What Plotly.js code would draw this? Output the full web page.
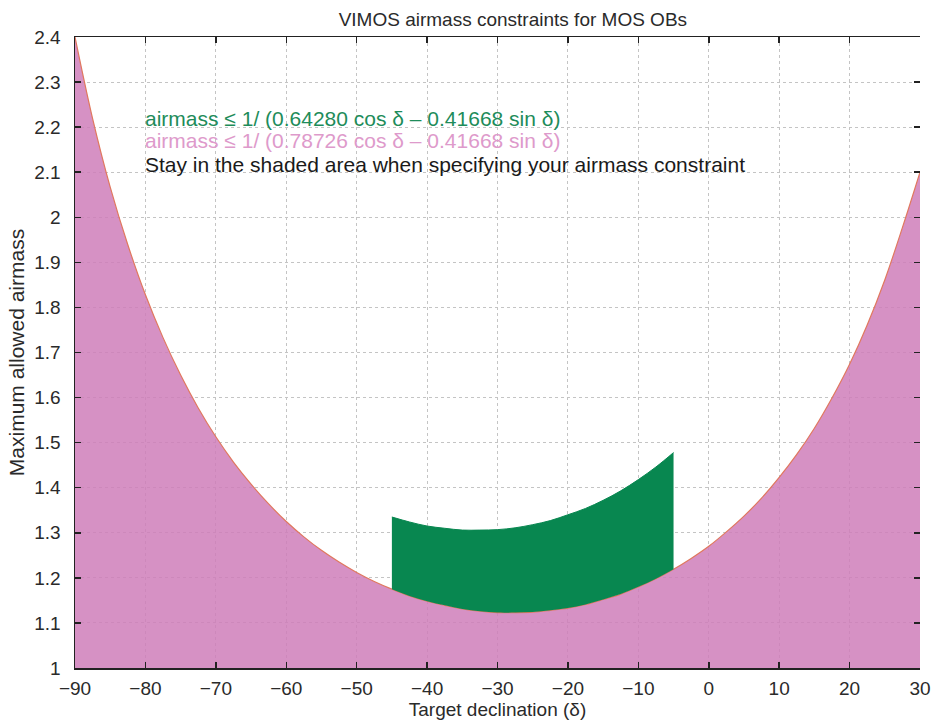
<!DOCTYPE html>
<html>
<head>
<meta charset="utf-8">
<script src="https://cdn.plot.ly/plotly-3.0.1.min.js"></script>
<style>html,body{margin:0;padding:0;background:#fff;}#chart{width:948px;height:721px;}</style>
</head>
<body>
<div id="chart"></div>
<script>
// Declination (deg) and maximum allowed airmass for the pink (0.78726) limit
const declination = [-90, -87.5, -85, -82.5, -80, -77.5, -75, -72.5, -70, -67.5, -65, -62.5, -60, -57.5, -55, -52.5, -50, -47.5, -45, -42.5, -40, -37.5, -35, -32.5, -30, -27.5, -25, -22.5, -20, -17.5, -15, -12.5, -10, -7.5, -5, -2.5, 0, 2.5, 5, 7.5, 10, 12.5, 15, 17.5, 20, 22.5, 25, 27.5, 30];
const airmassPink = [2.400, 2.219, 2.067, 1.939, 1.828, 1.733, 1.650, 1.577, 1.513, 1.457, 1.408, 1.364, 1.325, 1.291, 1.261, 1.235, 1.212, 1.192, 1.175, 1.160, 1.148, 1.139, 1.131, 1.126, 1.123, 1.123, 1.124, 1.128, 1.133, 1.141, 1.152, 1.164, 1.180, 1.198, 1.219, 1.243, 1.270, 1.302, 1.337, 1.377, 1.423, 1.474, 1.532, 1.599, 1.674, 1.761, 1.861, 1.977, 2.100];
// Green (0.64280) limit, drawn between -45 and -5
const declinationGreen = [-45, -42.5, -40, -37.5, -35, -32.5, -30, -27.5, -25, -22.5, -20, -17.5, -15, -12.5, -10, -7.5, -5];
const airmassGreenUpper = [1.335, 1.324, 1.315, 1.310, 1.306, 1.306, 1.307, 1.311, 1.318, 1.327, 1.340, 1.354, 1.372, 1.393, 1.418, 1.446, 1.478];
const airmassGreenLower = [1.175, 1.160, 1.148, 1.139, 1.131, 1.126, 1.123, 1.123, 1.124, 1.128, 1.133, 1.141, 1.152, 1.164, 1.180, 1.198, 1.219];
const xTicks = [-90, -80, -70, -60, -50, -40, -30, -20, -10, 0, 10, 20, 30];
const xTickLabels = ['\u221290', '\u221280', '\u221270', '\u221260', '\u221250', '\u221240', '\u221230', '\u221220', '\u221210', '0', '10', '20', '30'];
const yTicks = [1, 1.1, 1.2, 1.3, 1.4, 1.5, 1.6, 1.7, 1.8, 1.9, 2, 2.1, 2.2, 2.3, 2.4];
const yTickLabels = ['1', '1.1', '1.2', '1.3', '1.4', '1.5', '1.6', '1.7', '1.8', '1.9', '2', '2.1', '2.2', '2.3', '2.4'];
const legendLines = [
  'airmass \u2264 1/ (0.64280 cos \u03b4 \u2013 0.41668 sin \u03b4)',
  'airmass \u2264 1/ (0.78726 cos \u03b4 \u2013 0.41668 sin \u03b4)',
  'Stay in the shaded area when specifying your airmass constraint'
];

const FONT = 'Liberation Sans, Arial, Helvetica, sans-serif';
const TXT = '#2a2a2a';

const traces = [
  {
    x: declination, y: airmassPink, type: 'scatter', mode: 'lines',
    line: {color: '#e0785e', width: 1.2, shape: 'spline', smoothing: 1},
    fill: 'tozeroy', fillcolor: 'rgba(207,126,186,0.85)',
    hoverinfo: 'skip', showlegend: false
  },
  {
    x: declinationGreen, y: airmassGreenLower, type: 'scatter', mode: 'lines',
    line: {color: 'rgba(0,0,0,0)', width: 0, shape: 'spline', smoothing: 1},
    hoverinfo: 'skip', showlegend: false
  },
  {
    x: declinationGreen, y: airmassGreenUpper, type: 'scatter', mode: 'lines',
    line: {color: '#088750', width: 1, shape: 'spline', smoothing: 1},
    fill: 'tonexty', fillcolor: '#088750',
    hoverinfo: 'skip', showlegend: false
  }
];

const annY = [2.22, 2.171, 2.118];
const annColors = ['#1e8c5a', '#de9acb', '#1a1a1a'];

const layout = {
  width: 948, height: 721,
  margin: {l: 75, r: 28, t: 37, b: 53},
  paper_bgcolor: '#fff', plot_bgcolor: '#fff',
  font: {family: FONT, size: 19, color: TXT},
  title: {text: 'VIMOS airmass constraints for MOS OBs', font: {family: FONT, size: 19, color: TXT}, x: 0.541, xanchor: 'center', y: 0.973, yanchor: 'middle'},
  xaxis: {
    range: [-90, 30], tickvals: xTicks, ticktext: xTickLabels,
    ticks: 'inside', ticklen: 6, tickcolor: '#222', tickwidth: 1.5,
    showline: true, linecolor: '#222', linewidth: 1.5, mirror: 'ticks',
    showgrid: true, gridcolor: '#c4c4c4', griddash: 'dot', gridwidth: 1,
    zeroline: false, tickfont: {size: 19, color: TXT}, ticklabelstandoff: 3,
    title: {text: 'Target declination (\u03b4)', font: {size: 19, color: TXT}, standoff: 2}
  },
  yaxis: {
    range: [1, 2.4], tickvals: yTicks, ticktext: yTickLabels,
    ticks: 'inside', ticklen: 6, tickcolor: '#222', tickwidth: 1.5,
    showline: true, linecolor: '#222', linewidth: 1.5, mirror: false,
    showgrid: true, gridcolor: '#c4c4c4', griddash: 'dot', gridwidth: 1,
    zeroline: false, tickfont: {size: 19, color: TXT}, ticklabelstandoff: 9,
    title: {text: 'Maximum allowed airmass', font: {size: 21, color: TXT}, standoff: 4}
  },
  yaxis2: {
    overlaying: 'y', side: 'right', range: [1, 2.4], tickvals: yTicks,
    ticks: 'inside', ticklen: 6, tickcolor: '#222', tickwidth: 1.5,
    showticklabels: false, showgrid: false, showline: false, zeroline: false
  },
  annotations: legendLines.map((t, i) => ({
    x: -80.3, y: annY[i], xref: 'x', yref: 'y', text: t, showarrow: false,
    xanchor: 'left', yanchor: 'middle', font: {family: FONT, size: 21, color: annColors[i]}
  }))
};

traces.push({x: [0], y: [1], yaxis: 'y2', type: 'scatter', mode: 'markers', marker: {opacity: 0}, hoverinfo: 'skip', showlegend: false});

Plotly.newPlot('chart', traces, layout, {staticPlot: true});
</script>
</body>
</html>
